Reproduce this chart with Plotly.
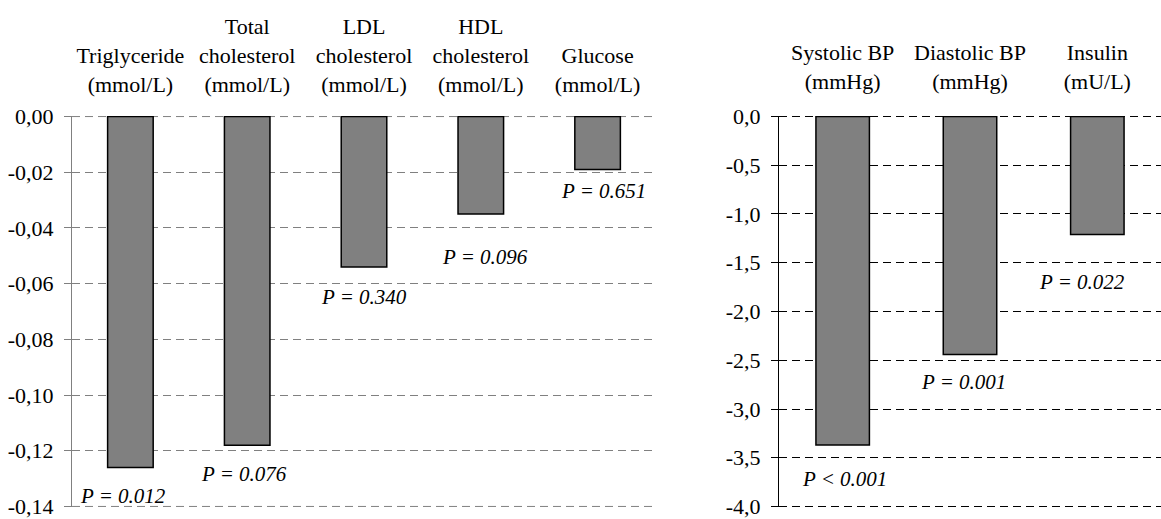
import plotly.graph_objects as go

# ---- data ----
left_categories = ["Triglyceride<br>(mmol/L)", "Total<br>cholesterol<br>(mmol/L)",
                   "LDL<br>cholesterol<br>(mmol/L)", "HDL<br>cholesterol<br>(mmol/L)",
                   "Glucose<br>(mmol/L)"]
left_values = [-0.126, -0.118, -0.054, -0.035, -0.019]
left_pvalues = ["P = 0.012", "P = 0.076", "P = 0.340", "P = 0.096", "P = 0.651"]
left_tickvals = [0, -0.02, -0.04, -0.06, -0.08, -0.10, -0.12, -0.14]
left_ticktext = ["0,00", "-0,02", "-0,04", "-0,06", "-0,08", "-0,10", "-0,12", "-0,14"]

right_categories = ["Systolic BP<br>(mmHg)", "Diastolic BP<br>(mmHg)", "Insulin<br>(mU/L)"]
right_values = [-3.37, -2.44, -1.21]
right_pvalues = ["P < 0.001", "P = 0.001", "P = 0.022"]
right_tickvals = [0, -0.5, -1.0, -1.5, -2.0, -2.5, -3.0, -3.5, -4.0]
right_ticktext = ["0,0", "-0,5", "-1,0", "-1,5", "-2,0", "-2,5", "-3,0", "-3,5", "-4,0"]

# label offsets (pixels) for P-value annotations
left_label_shift = [(-7, -29), (-3, -29), (0, -30), (4, -43), (6, -22)]
right_label_shift = [(2, -34), (-7, -28), (-15, -48)]

FONT = "Liberation Serif"
W, H = 1161, 519
ml, mr, mt, mb = 72, 0, 116, 10
pw = W - ml - mr
dom_left = [0, (656 - ml) / pw]
dom_right = [(779 - ml) / pw, 1.0]

fig = go.Figure()
fig.add_trace(go.Bar(x=list(range(len(left_values))), y=left_values, width=0.39,
                     marker=dict(color="#808080", line=dict(color="black", width=1.5)),
                     xaxis="x", yaxis="y", showlegend=False, hoverinfo="y"))
fig.add_trace(go.Bar(x=list(range(len(right_values))), y=right_values, width=0.42,
                     marker=dict(color="#808080", line=dict(color="black", width=1.5)),
                     xaxis="x2", yaxis="y2", showlegend=False, hoverinfo="y"))

annotations = []
for i, (v, t) in enumerate(zip(left_values, left_pvalues)):
    dx, dy = left_label_shift[i]
    annotations.append(dict(x=i, y=v, xref="x", yref="y", text="<i>" + t.replace("<", "&lt;") + "</i>",
                            showarrow=False, xshift=dx, yshift=dy,
                            font=dict(family=FONT, size=21, color="black")))
for i, (v, t) in enumerate(zip(right_values, right_pvalues)):
    dx, dy = right_label_shift[i]
    annotations.append(dict(x=i, y=v, xref="x2", yref="y2", text="<i>" + t.replace("<", "&lt;") + "</i>",
                            showarrow=False, xshift=dx, yshift=dy,
                            font=dict(family=FONT, size=21, color="black")))

# dashed lines at the range ends (plotly drops grid lines on the plot edges)
shapes = []
for yref, xref, vals, col in (("y", "x domain", [left_tickvals[0], left_tickvals[-1]], "#808080"),
                              ("y2", "x2 domain", [right_tickvals[0], right_tickvals[-1]], "#000000")):
    for v in vals:
        shapes.append(dict(type="line", xref=xref, yref=yref, x0=0, x1=1, y0=v, y1=v,
                           line=dict(color=col, width=1, dash="8px,5px"), layer="below"))

tickfont = dict(family=FONT, size=22, color="black")
fig.update_layout(
    width=W, height=H,
    margin=dict(l=ml, r=mr, t=mt, b=mb),
    paper_bgcolor="white", plot_bgcolor="white",
    font=dict(family=FONT, size=22, color="black"),
    annotations=annotations,
    shapes=shapes,
    xaxis=dict(domain=dom_left, anchor="y", side="top", range=[-0.5, len(left_values) - 0.5],
               tickmode="array", tickvals=list(range(len(left_values))), ticktext=left_categories,
               showgrid=False, zeroline=False, showline=False, ticks="", tickfont=tickfont,
               ticklabelstandoff=19),
    yaxis=dict(domain=[0, 1], anchor="x", range=[-0.1402, 0.0002], tickmode="array",
               tickvals=left_tickvals, ticktext=left_ticktext, tickfont=tickfont,
               showgrid=True, gridcolor="#808080", griddash="8px,5px", gridwidth=1,
               zeroline=False, showline=True, linecolor="#808080", linewidth=1,
               ticks="outside", ticklen=7, tickcolor="#808080", ticklabelstandoff=6,
               ticklabeloverflow="allow"),
    xaxis2=dict(domain=dom_right, anchor="y2", side="top", range=[-0.5, len(right_values) - 0.5],
                tickmode="array", tickvals=list(range(len(right_values))), ticktext=right_categories,
                showgrid=False, zeroline=False, showline=False, ticks="", tickfont=tickfont,
                ticklabelstandoff=22),
    yaxis2=dict(domain=[0, 1], anchor="x2", range=[-4.005, 0.005], tickmode="array",
                tickvals=right_tickvals, ticktext=right_ticktext, tickfont=tickfont,
                showgrid=True, gridcolor="#000000", griddash="8px,5px", gridwidth=1,
                zeroline=False, showline=True, linecolor="black", linewidth=1,
                ticks="outside", ticklen=7, tickcolor="black", ticklabelstandoff=6,
                ticklabeloverflow="allow"),
)

fig.write_html("out.html")
